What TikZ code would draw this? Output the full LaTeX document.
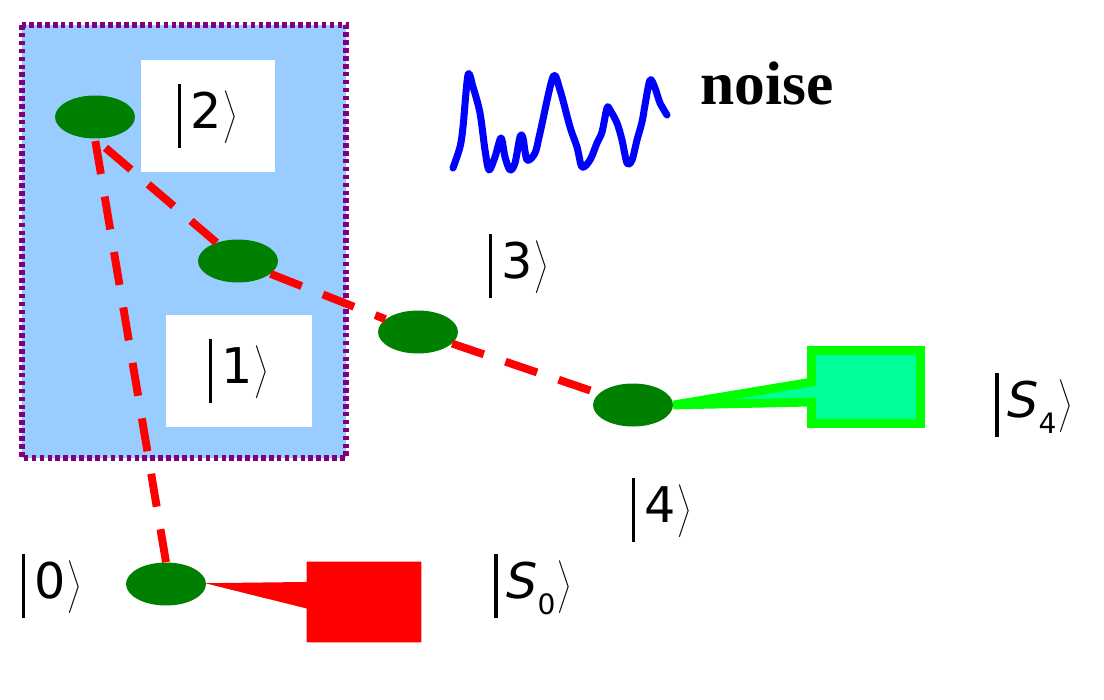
\documentclass[tikz,border=0pt]{standalone}
\usepackage{fontspec}
\setmainfont{Liberation Serif}
\setsansfont{DejaVu Sans}
\usetikzlibrary{shapes.geometric,shapes.callouts}
\definecolor{boxblue}{RGB}{153,204,255}
\definecolor{dotpurple}{RGB}{128,0,128}
\definecolor{sitegreen}{RGB}{0,128,0}
\definecolor{limegreen}{RGB}{0,255,0}
\definecolor{mintgreen}{RGB}{0,255,153}
\newcommand\ketl[1]{\rule[-11pt]{1.8pt}{36pt}\hspace{5pt}#1%
  $\left.\rule[-11pt]{0pt}{36pt}\right\rangle$}
\newcommand\lowsub[1]{\raisebox{-9pt}{\fontsize{16}{17}\selectfont #1}}
\begin{document}
\begin{tikzpicture}[x=0.02cm,y=-0.02cm,
  every node/.style={font=\sffamily\fontsize{28}{30}\selectfont},
  site/.style={ellipse,fill=sitegreen,minimum width=1.6cm,minimum height=0.86cm,inner sep=0pt},
  link/.style={red,line width=4.5pt,dash pattern=on 19pt off 13pt},
  labelbox/.style={fill=white,inner sep=0pt}]
 \useasboundingbox (0,0) rectangle (1104,699);
 % subsystem box
 \fill[boxblue] (22,25) rectangle (346,458);
 \draw[dotpurple,line width=3.4pt,dash pattern=on 2.6pt off 1.9pt]
  (22,25) rectangle (346,458);
 \node[labelbox,minimum width=2.68cm,minimum height=2.26cm]
  (w2) at (208,116) {\ketl{2}};
 \node[labelbox,minimum width=2.92cm,minimum height=2.24cm]
  (w1) at (239,371) {\ketl{1}};
 % sites
 \node[site] (e2) at (95,117) {};
 \node[site] (e1) at (238,261) {};
 \node[site] (e3) at (418,332) {};
 \node[site] (e4) at (633,405) {};
 \node[site] (e0) at (166,584) {};
 \draw[link] (e0.north) -- (e2.south);
 \draw[link] (e1) -- (e2.south);
 \draw[link] (e1) -- (e3); \draw[link] (e3) -- (e4);
 % sinks
 \coordinate (tip0) at (212,584);
 \node[rectangle callout,fill=red,draw=red,line width=1pt,
  minimum width=2.26cm,minimum height=1.58cm,
  callout absolute pointer={(tip0)},callout pointer width=0.5cm]
  (s0) at (364,602) {};
 \node[rectangle callout,fill=mintgreen,draw=limegreen,line width=5pt,
  minimum width=2.18cm,minimum height=1.46cm,
  callout absolute pointer={(e4.east)},callout pointer width=0.4cm]
  (s4) at (866,387) {};
 % labels
 \node (k3) at (519,266) {\ketl{3}};
 \node (k4) at (662,510) {\ketl{4}};
 \node (k0) at (52,586) {\ketl{0}};
 \node (ks0) at (533,586) {\ketl{\textit{S}\lowsub{0}}};
 \node (ks4) at (1034,405) {\ketl{\textit{S}\lowsub{4}}};
 \node[font=\rmfamily\bfseries\fontsize{35}{36}\selectfont] (noise) at (767,83) {noise};
 % noise trace
 \draw[blue,line width=4pt,line join=round,line cap=round]
  plot[smooth,tension=0.5] coordinates {(453,168) (460,147) (463,127) (468,75)
  (473,87) (480,113) (485,150) (489,170) (495,157) (501,138) (505,157)
  (510,170) (515,163) (520,137) (523,138) (527,160) (535,153) (540,133)
  (553,77) (560,90) (570,127) (577,147) (582,167) (590,160) (597,143)
  (602,132) (607,108) (610,110) (617,123) (622,140) (627,163) (632,160)
  (637,140) (642,122) (645,105) (650,80) (655,88) (660,103) (667,115)};
\end{tikzpicture}
\end{document}
